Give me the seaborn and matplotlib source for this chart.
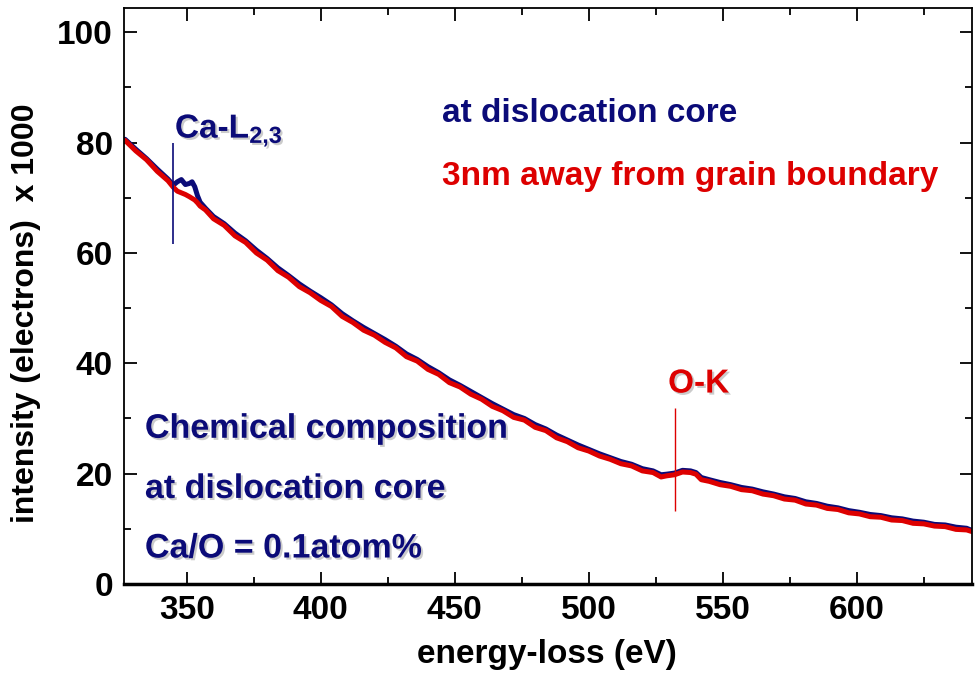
import matplotlib
matplotlib.use("Agg")
import matplotlib.pyplot as plt
import matplotlib.patheffects as pe
from matplotlib.ticker import MultipleLocator
import seaborn as sns
import pandas as pd

# ---------------- data ----------------
energy = [327, 331, 335, 339, 343, 345, 346.5, 348, 349.5, 351, 352, 353, 354, 355, 357,
          360, 364, 368, 372, 376, 380, 384, 388, 392, 396, 400, 404, 408, 412, 416,
          420, 424, 428, 432, 436, 440, 444, 448, 452, 456, 460, 464, 468, 472, 476,
          480, 484, 488, 492, 496, 500, 504, 508, 512, 516, 520, 524, 527, 529, 532,
          535, 538, 540, 542, 545, 549, 553, 557, 561, 565, 569, 573, 577, 581, 585,
          589, 593, 597, 601, 605, 609, 613, 617, 621, 625, 629, 633, 637, 641, 643]

grain_boundary_3nm = [80.4, 78.5, 76.9, 74.8, 73.1, 71.9, 71.2, 70.9, 70.6, 70.2, 69.9, 69.6, 69.1, 68.5, 67.8,
                      66.2, 65.0, 63.1, 61.9, 60.0, 58.7, 56.8, 55.6, 53.9, 52.8, 51.4, 50.3, 48.5, 47.4, 46.0,
                      45.1, 43.8, 42.8, 41.2, 40.4, 38.9, 38.0, 36.5, 35.7, 34.4, 33.5, 32.2, 31.4, 30.2, 29.7,
                      28.4, 27.8, 26.5, 25.8, 24.7, 24.1, 23.2, 22.6, 21.8, 21.4, 20.5, 20.2, 19.4, 19.6, 19.8,
                      20.3, 20.2, 19.9, 18.9, 18.6, 18.0, 17.7, 17.1, 16.9, 16.3, 16.0, 15.4, 15.2, 14.5, 14.3,
                      13.7, 13.5, 12.9, 12.7, 12.2, 12.1, 11.6, 11.5, 11.0, 10.9, 10.5, 10.4, 9.9, 9.8, 9.5]

dislocation_core = [80.6, 78.8, 77.1, 75.2, 73.4, 72.3, 72.9, 73.3, 72.4, 72.6, 72.9, 72.0, 70.4, 69.2, 68.1,
                    66.6, 65.3, 63.6, 62.2, 60.5, 59.0, 57.3, 55.9, 54.4, 53.1, 51.9, 50.6, 49.0, 47.7, 46.5,
                    45.4, 44.3, 43.1, 41.7, 40.7, 39.4, 38.3, 37.0, 36.0, 34.9, 33.8, 32.7, 31.7, 30.7, 30.0,
                    28.9, 28.1, 27.0, 26.1, 25.2, 24.4, 23.6, 22.9, 22.2, 21.7, 20.9, 20.5, 19.8, 19.9, 20.1,
                    20.6, 20.5, 20.2, 19.3, 18.9, 18.4, 18.0, 17.5, 17.2, 16.7, 16.3, 15.8, 15.5, 14.9, 14.6,
                    14.1, 13.8, 13.3, 13.0, 12.6, 12.4, 12.0, 11.8, 11.4, 11.2, 10.8, 10.7, 10.3, 10.1, 9.7]

ca_edge = 345      # Ca-L2,3 marker position (eV)
ca_marker = [61.6, 80.0]
o_edge = 532       # O-K marker position (eV)
o_marker = [13.2, 31.9]

x_ticks = [350, 400, 450, 500, 550, 600]
y_ticks = [0, 20, 40, 60, 80, 100]

NAVY = "#0b0b78"
RED = "#dd0000"

# ---------------- style ----------------
sns.set_theme(style="white")
plt.rcParams["font.family"] = ["Liberation Sans", "DejaVu Sans"]
plt.rcParams["font.weight"] = "bold"
plt.rcParams["mathtext.fontset"] = "custom"
plt.rcParams["mathtext.rm"] = "Liberation Sans:bold"
plt.rcParams["mathtext.it"] = "Liberation Sans:bold"
plt.rcParams["mathtext.bf"] = "Liberation Sans:bold"

fig = plt.figure(figsize=(9.75, 6.74), dpi=100)
ax = fig.add_axes([124 / 975, 1 - 584 / 674, (972 - 124) / 975, (584 - 8) / 674])

df = pd.DataFrame({"energy": energy, "core": dislocation_core, "gb": grain_boundary_3nm})
sns.lineplot(data=df, x="energy", y="core", color=NAVY, lw=3.6, ax=ax, sort=False)
sns.lineplot(data=df, x="energy", y="gb", color=RED, lw=3.6, ax=ax, sort=False)

ax.vlines(ca_edge, ca_marker[0], ca_marker[1], color=NAVY, lw=1.2)
ax.vlines(o_edge, o_marker[0], o_marker[1], color=RED, lw=1.0)

ax.set_xlim(326.6, 643.0)
ax.set_ylim(0, 104.4)
ax.set_xticks(x_ticks)
ax.set_yticks(y_ticks)
ax.xaxis.set_minor_locator(MultipleLocator(25))
ax.yaxis.set_minor_locator(MultipleLocator(10))
ax.tick_params(which="both", direction="in", top=True, right=True, bottom=True, left=True,
               colors="black", labelsize=24, width=1.3, pad=8)
ax.tick_params(which="major", length=9)
ax.tick_params(which="minor", length=5)
for lab in ax.get_xticklabels() + ax.get_yticklabels():
    lab.set_fontweight("bold")

for s in ax.spines.values():
    s.set_visible(True)
    s.set_color("black")
    s.set_linewidth(1.3)
ax.spines["bottom"].set_linewidth(2.5)

ax.set_xlabel("energy-loss (eV)", fontsize=24, fontweight="bold", color="black")
ax.set_ylabel("intensity (electrons)  x 1000", fontsize=23, fontweight="bold", color="black")
ax.xaxis.set_label_coords(0.499, -0.095)
ax.yaxis.set_label_coords(-0.098, 0.47)

shadow = [pe.SimplePatchShadow(offset=(1.5, -1.5), shadow_rgbFace="#999999", alpha=0.5), pe.Normal()]

ax.text(345.6, 80.9, "Ca-L$_{2{,}3}$", color=NAVY, fontsize=24, fontweight="bold",
        va="baseline", ha="left", path_effects=shadow)
ax.text(529.6, 34.7, "O-K", color=RED, fontsize=24, fontweight="bold",
        va="baseline", ha="left", path_effects=shadow)
ax.text(445.3, 83.8, "at dislocation core", color=NAVY, fontsize=24, fontweight="bold",
        va="baseline", ha="left")
ax.text(445.3, 72.4, "3nm away from grain boundary", color=RED, fontsize=24, fontweight="bold",
        va="baseline", ha="left")
ax.text(334.4, 26.5, "Chemical composition", color=NAVY, fontsize=24.5, fontweight="bold",
        va="baseline", ha="left", path_effects=shadow)
ax.text(334.4, 15.6, "at dislocation core", color=NAVY, fontsize=24.5, fontweight="bold",
        va="baseline", ha="left", path_effects=shadow)
ax.text(334.4, 4.8, "Ca/O = 0.1atom%", color=NAVY, fontsize=24.5, fontweight="bold",
        va="baseline", ha="left", path_effects=shadow)

fig.savefig("out.png", dpi=100, facecolor="white")
